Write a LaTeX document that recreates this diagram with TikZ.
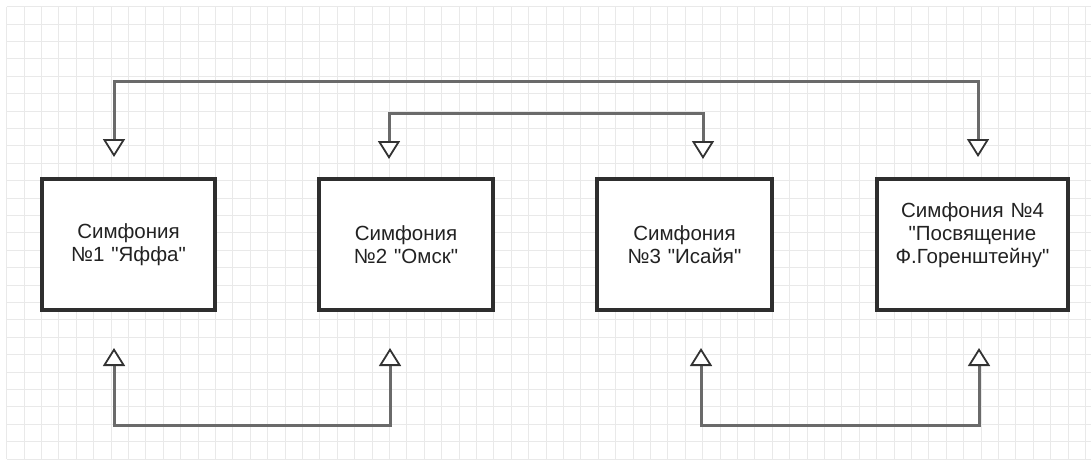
\documentclass[tikz,border=0pt]{standalone}
\usepackage{fontspec}
\setmainfont{Liberation Sans}[Ligatures=TeXOff]
\usetikzlibrary{arrows.meta}
\definecolor{gridc}{HTML}{E9E9E9}
\definecolor{boxc}{HTML}{2E2E2E}
\definecolor{linec}{HTML}{6A6A6A}
\definecolor{tipc}{HTML}{333333}
\definecolor{textc}{HTML}{222222}
\tikzset{
  symbox/.style={draw=boxc, line width=4pt, fill=white, minimum height=131pt,
    align=center, text=textc, font=\fontsize{20.5}{23}\selectfont, inner sep=0pt},
  opentip/.tip={Triangle[width=22pt,length=18pt,line width=1.8pt,color=tipc,fill=white]},
  conn/.style={draw=linec, line width=3pt, {opentip}-{opentip}},
  gridline/.style={draw=gridc, line width=1pt}
}
\begin{document}
\begin{tikzpicture}[x=1pt,y=-1pt]
\useasboundingbox (0,0) rectangle (1091,459);
\fill[white] (0,0) rectangle (1091,459);
\foreach \i in {0,...,62} {\draw[gridline] ({6.7+17.4*\i},6.7) -- ({6.7+17.4*\i},459);}
\foreach \j in {0,...,26} {\draw[gridline] (6.7,{6.7+17.4*\j}) -- (1091,{6.7+17.4*\j});}

\node[symbox, minimum width=173pt, text width=165pt] (b1) at (128.5,244.5) {Симфония\\№1 "Яффа"};
\node[symbox, minimum width=174pt, text width=165pt] (b2) at (406,244.5) {Симфония\\№2 "Омск"};
\node[symbox, minimum width=175pt, text width=165pt] (b3) at (684.5,244.5) {Симфония\\№3 "Исайя"};
\node[symbox, minimum width=191pt, text width=185pt] (b4) at (972.5,244.5) {Симфония №4\\"Посвящение\\Ф.Горенштейну"\\~};

% top connectors
\coordinate (t1) at (114,157);
\coordinate (t4) at (978,157);
\coordinate (ty) at (0,81.5);
\coordinate (t2) at (389,159);
\coordinate (t3) at (703,159);
\coordinate (tyy) at (0,113);
\draw[conn] (t1) -- (t1 |- ty) -- (t4 |- ty) -- (t4);
\draw[conn] (t2) -- (t2 |- tyy) -- (t3 |- tyy) -- (t3);

% bottom connectors
\coordinate (u1) at (114,348);
\coordinate (u2) at (390,348);
\coordinate (u3) at (701,348);
\coordinate (u4) at (979,348);
\coordinate (uy) at (0,425.5);
\draw[conn] (u1) -- (u1 |- uy) -- (u2 |- uy) -- (u2);
\draw[conn] (u3) -- (u3 |- uy) -- (u4 |- uy) -- (u4);
\end{tikzpicture}
\end{document}
